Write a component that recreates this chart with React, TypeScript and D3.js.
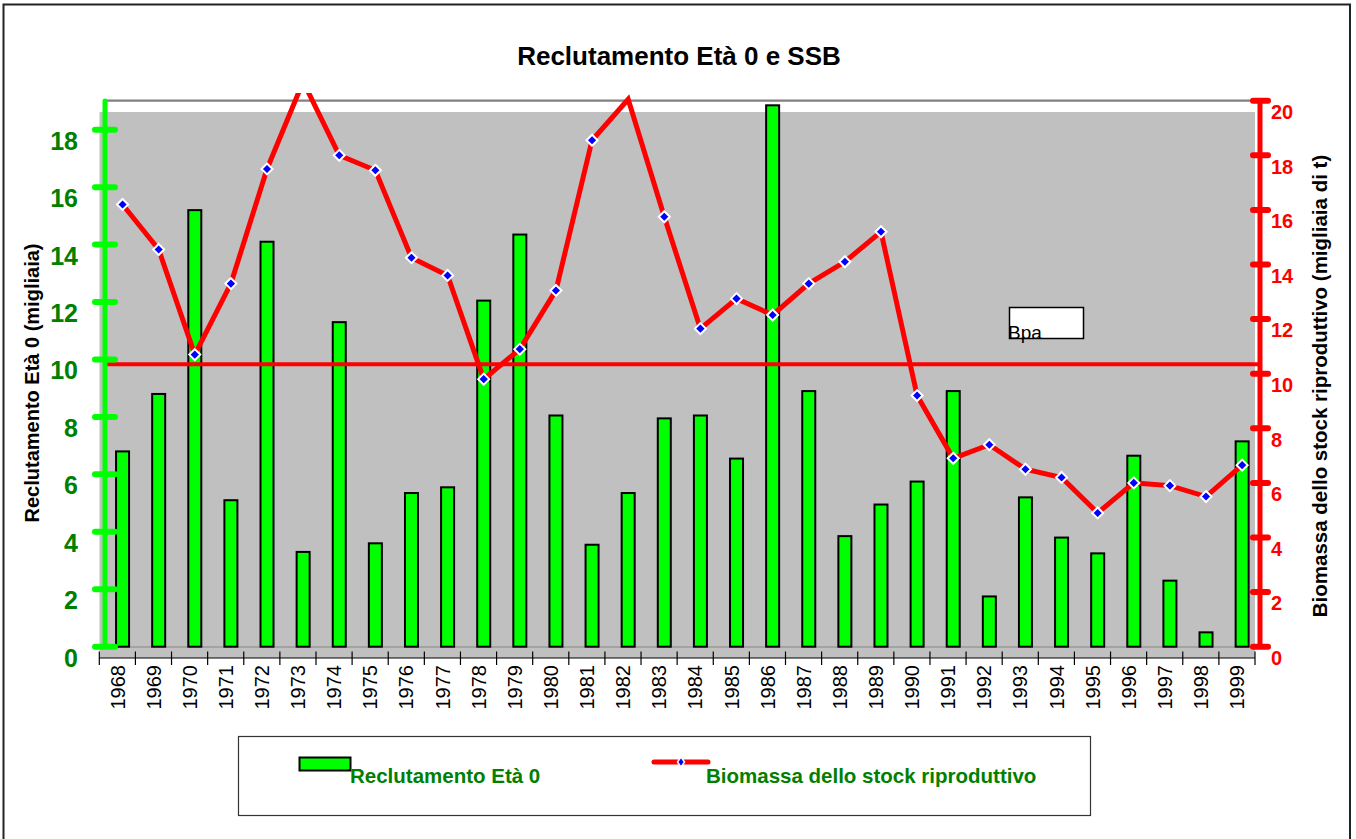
import React from "react";
import * as d3 from "d3";

const years = ["1968","1969","1970","1971","1972","1973","1974","1975","1976","1977","1978","1979","1980","1981","1982","1983","1984","1985","1986","1987","1988","1989","1990","1991","1992","1993","1994","1995","1996","1997","1998","1999"];
const recruitment = [6.8, 8.8, 15.2, 5.1, 14.1, 3.3, 11.3, 3.6, 5.35, 5.55, 12.05, 14.35, 8.05, 3.55, 5.35, 7.95, 8.05, 6.55, 18.85, 8.9, 3.85, 4.95, 5.75, 8.9, 1.75, 5.2, 3.8, 3.25, 6.65, 2.3, 0.5, 7.15];
const ssb = [16.2, 14.55, 10.7, 13.3, 17.5, 20.7, 18.0, 17.45, 14.25, 13.6, 9.8, 10.9, 13.05, 18.55, 20.05, 15.75, 11.65, 12.75, 12.15, 13.3, 14.1, 15.2, 9.2, 6.9, 7.4, 6.5, 6.2, 4.9, 6.0, 5.9, 5.5, 6.65];
const bpa = 10.35;
const leftTicks = [0, 2, 4, 6, 8, 10, 12, 14, 16, 18];
const rightTicks = [0, 2, 4, 6, 8, 10, 12, 14, 16, 18, 20];

const FONT = "Arial, 'Liberation Sans', sans-serif";

export default function App() {
  const x = d3.scaleBand<string>().domain(years).range([99.3, 1255]).paddingInner(0).paddingOuter(0);
  const yL = d3.scaleLinear().domain([0, 19]).range([646.7, 101]);
  const yR = d3.scaleLinear().domain([0, 20]).range([646.7, 100.7]);
  const bw = x.bandwidth();
  const markX = (y: string) => (x(y) as number) + bw / 2 + 5.2;
  const barW = 13;
  const lineGen = d3.line<number>().x((_, i) => markX(years[i])).y((d) => yR(d));
  const leftAxisX = 105;
  const rightAxisX = 1260;

  return (
    <svg width={1356} height={839} style={{ position: "absolute", left: 0, top: 0, background: "#fff" }} fontFamily={FONT}>
      <defs>
        <clipPath id="plotclip">
          <rect x={90} y={93} width={1180} height={570} />
        </clipPath>
      </defs>
      {/* outer border */}
      <rect x={3.5} y={4.5} width={1346.5} height={840} fill="#fff" stroke="#222" strokeWidth={2} />
      {/* title */}
      <text x={679} y={65} textAnchor="middle" fontSize={26} fontWeight="bold" fill="#000">Reclutamento Età 0 e SSB</text>
      {/* plot area */}
      <rect x={99.5} y={112} width={1255 - 99.5} height={658 - 112} fill="#c0c0c0" />
      <line x1={leftAxisX} x2={1255} y1={100.7} y2={100.7} stroke="#808080" strokeWidth={2.2} />
      <line x1={99.5} x2={1255} y1={647} y2={647} stroke="#9a9a9a" strokeWidth={1.5} />
      {/* category axis */}
      <line x1={99.3} x2={1255} y1={658} y2={658} stroke="#000" strokeWidth={1.2} />
      {years.map((yr) => (
        <line key={"t" + yr} x1={x(yr)} x2={x(yr)} y1={651.5} y2={665} stroke="#000" strokeWidth={1.2} />
      ))}
      <line x1={1255} x2={1255} y1={651.5} y2={665} stroke="#000" strokeWidth={1.2} />
      {years.map((yr) => {
        const cx = (x(yr) as number) + bw / 2;
        return (
          <text key={"l" + yr} transform={`translate(${cx},665) rotate(-90)`} textAnchor="end" dy="0.36em" fontSize={20} fill="#000">{yr}</text>
        );
      })}
      {/* bars */}
      {recruitment.map((v, i) => (
        <rect key={"b" + i} x={markX(years[i]) - barW / 2} y={yL(v)} width={barW} height={yL(0) - yL(v)} fill="#00ff00" stroke="#000" strokeWidth={2} />
      ))}
      {/* Bpa line */}
      <line x1={leftAxisX} x2={rightAxisX} y1={yR(bpa)} y2={yR(bpa)} stroke="#ff0000" strokeWidth={4} />
      {/* SSB line */}
      <g clipPath="url(#plotclip)">
        <path d={lineGen(ssb) || ""} fill="none" stroke="#ff0000" strokeWidth={5} strokeLinejoin="miter" />
      </g>
      {ssb.map((v, i) =>
        v <= 20 ? (
          <path key={"m" + i} transform={`translate(${markX(years[i])},${yR(v)})`} d="M0,-5.5L5.5,0L0,5.5L-5.5,0Z" fill="#0000ff" stroke="#fff" strokeWidth={2} />
        ) : null
      )}
      {/* Bpa box */}
      <rect x={1009.5} y={307.5} width={74} height={31} fill="#fff" stroke="#000" strokeWidth={1.5} />
      <text x={1008} y={339} fontSize={19} fill="#000">Bpa</text>
      {/* left axis */}
      <line x1={leftAxisX} x2={leftAxisX} y1={yL(19)} y2={yL(0)} stroke="#00ff00" strokeWidth={5} strokeLinecap="round" />
      {leftTicks.map((t) => (
        <g key={"lt" + t}>
          <line x1={95} x2={115} y1={yL(t)} y2={yL(t)} stroke="#00ff00" strokeWidth={6} strokeLinecap="round" />
          <text x={78} y={yL(t) + 11} dy="0.36em" textAnchor="end" fontSize={25} fontWeight="bold" fill="#008000">{t}</text>
        </g>
      ))}
      {/* right axis */}
      <line x1={rightAxisX} x2={rightAxisX} y1={yR(20)} y2={yR(0)} stroke="#ff0000" strokeWidth={5} strokeLinecap="round" />
      {rightTicks.map((t) => (
        <g key={"rt" + t}>
          <line x1={1253} x2={1268} y1={yR(t)} y2={yR(t)} stroke="#ff0000" strokeWidth={6} strokeLinecap="round" />
          <text x={1271} y={yR(t) + 11} dy="0.36em" textAnchor="start" fontSize={20} fontWeight="bold" fill="#ff0000">{t}</text>
        </g>
      ))}
      {/* axis titles */}
      <text transform="translate(32,383) rotate(-90)" textAnchor="middle" dy="0.36em" fontSize={20} fontWeight="bold" fill="#000">Reclutamento Età 0 (migliaia)</text>
      <text transform="translate(1320,386) rotate(-90)" textAnchor="middle" dy="0.36em" fontSize={20.5} fontWeight="bold" fill="#000">Biomassa dello stock riproduttivo (migliaia di t)</text>
      {/* legend */}
      <rect x={238.5} y={736.5} width={852} height={79} fill="#fff" stroke="#333" strokeWidth={1.2} />
      <rect x={299.5} y={757.5} width={51} height={13} fill="#00ff00" stroke="#000" strokeWidth={2} />
      <text x={350} y={783} fontSize={20.5} fontWeight="bold" fill="#008000">Reclutamento Età 0</text>
      <line x1={654} x2={708} y1={762} y2={762} stroke="#ff0000" strokeWidth={5} strokeLinecap="round" />
      <path transform="translate(681,762)" d="M0,-5L3.5,0L0,5L-3.5,0Z" fill="#0000ff" stroke="#fff" strokeWidth={1.5} />
      <text x={706} y={783} fontSize={20.5} fontWeight="bold" fill="#008000">Biomassa dello stock riproduttivo</text>
    </svg>
  );
}
